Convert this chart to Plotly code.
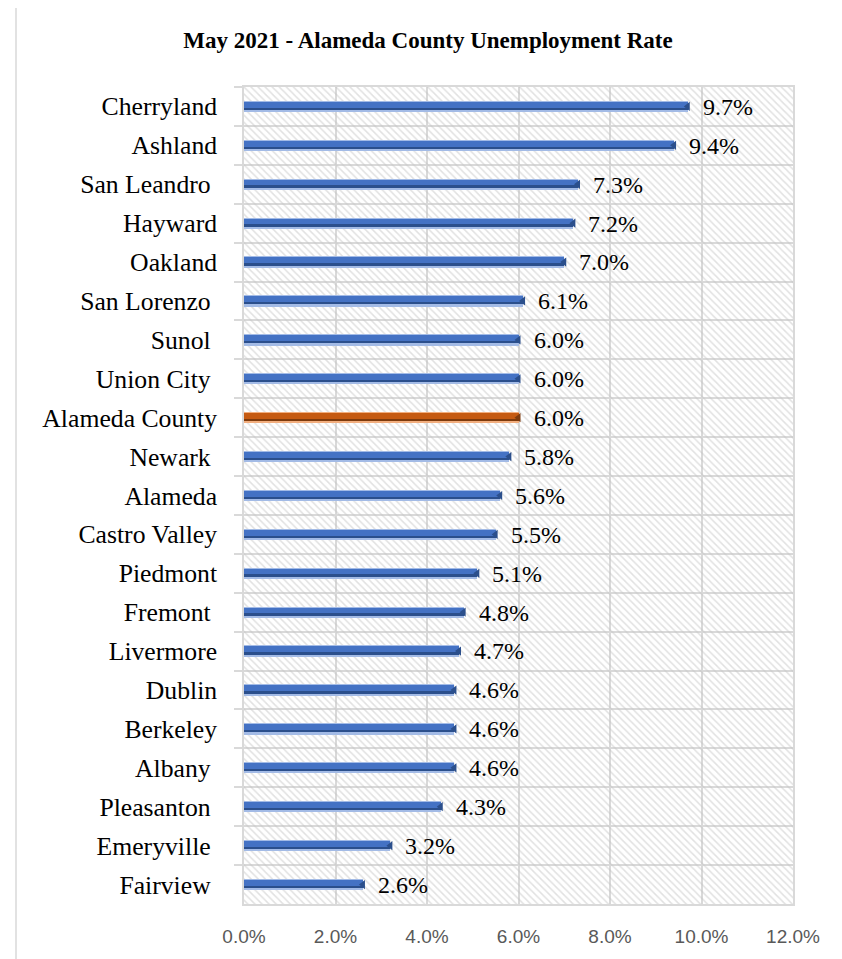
import plotly.graph_objects as go

# ---- data ----
places = ["Cherryland", "Ashland", "San Leandro\u00a0", "Hayward", "Oakland",
          "San Lorenzo\u00a0", "Sunol\u00a0", "Union City\u00a0", "Alameda County",
          "Newark\u00a0", "Alameda", "Castro Valley", "Piedmont", "Fremont\u00a0",
          "Livermore", "Dublin", "Berkeley", "Albany\u00a0", "Pleasanton\u00a0",
          "Emeryville\u00a0", "Fairview\u00a0"]
rates = [0.097, 0.094, 0.073, 0.072, 0.070, 0.061, 0.060, 0.060, 0.060, 0.058,
         0.056, 0.055, 0.051, 0.048, 0.047, 0.046, 0.046, 0.046, 0.043, 0.032, 0.026]
x_ticks = [0.0, 0.02, 0.04, 0.06, 0.08, 0.10, 0.12]
title_text = "May 2021 - Alameda County Unemployment Rate"

GRID = "#D9D9D9"
# (light, main, dark) shades for the bevelled bars
BLUE_SHADES = ("#A3BBE6", "#4472C4", "#2B4F8C")
ORANGE_SHADES = ("#F2AE7E", "#C55A11", "#7E3A0C")

is_county = [p.startswith("Alameda County") for p in places]
light = [ORANGE_SHADES[0] if c else BLUE_SHADES[0] for c in is_county]
main = [ORANGE_SHADES[1] if c else BLUE_SHADES[1] for c in is_county]
dark = [ORANGE_SHADES[2] if c else BLUE_SHADES[2] for c in is_county]

# page body has an 8px margin, so figure pixel = screen pixel - 8
OFF = 8
W, H = 842 - 2 * OFF, 959 - OFF
PL, PR = 244 - OFF, 793 - OFF        # plot area left/right (figure px)
PT, PB = 87 - OFF, 907 - OFF         # plot area top/bottom (figure px)

fig = go.Figure()

# hatched plot-area background (on hidden main axes, drawn below the data)
fig.add_trace(go.Bar(
    x=[1], y=[0], width=[1], orientation="h", base=0,
    xaxis="x", yaxis="y",
    marker=dict(color="rgba(0,0,0,0)", line=dict(width=0),
                pattern=dict(shape="\\", size=5, solidity=0.3,
                             fgcolor="#C4C4C4", bgcolor="rgba(0,0,0,0)",
                             fillmode="overlay")),
    hoverinfo="skip", showlegend=False,
))

# data bars: light outer band carrying the labels
fig.add_trace(go.Bar(
    x=rates, y=places, orientation="h",
    xaxis="x2", yaxis="y2",
    width=0.29, offset=-0.145,
    marker=dict(color=light, line=dict(width=0)),
    texttemplate="\u2002%{x:.1%}",
    textposition="outside",
    constraintext="none",
    cliponaxis=False,
    textfont=dict(family="Liberation Serif", size=24, color="#000000"),
    showlegend=False,
))
# main body of the bar
fig.add_trace(go.Bar(
    x=rates, y=places, orientation="h",
    xaxis="x2", yaxis="y2",
    width=0.17, offset=-0.12,
    marker=dict(color=main, line=dict(width=0)),
    hoverinfo="skip", showlegend=False,
))
# dark lower band
fig.add_trace(go.Bar(
    x=rates, y=places, orientation="h",
    xaxis="x2", yaxis="y2",
    width=0.06, offset=0.03,
    marker=dict(color=dark, line=dict(width=0)),
    hoverinfo="skip", showlegend=False,
))
# dark end caps
fig.add_trace(go.Scatter(
    x=rates, y=places, mode="markers",
    xaxis="x2", yaxis="y2",
    marker=dict(symbol="triangle-left", size=8, color=dark, line=dict(width=0)),
    cliponaxis=False, hoverinfo="skip", showlegend=False,
))

fig.update_layout(
    width=W, height=H,
    margin=dict(l=PL, r=W - PR, t=PT, b=H - PB),
    paper_bgcolor="white", plot_bgcolor="white",
    barmode="overlay", bargap=0,
    title=dict(text="<b>" + title_text + "</b>", x=(428 - OFF) / W, xanchor="center",
               y=1 - (40 - OFF) / H, yanchor="middle", yref="container",
               font=dict(family="Liberation Serif", size=23, color="#000000")),
    xaxis=dict(range=[0, 1], visible=False, fixedrange=True),
    yaxis=dict(range=[-0.5, 0.5], visible=False, fixedrange=True),
    xaxis2=dict(overlaying="x", anchor="y2", side="bottom",
                range=[0, 0.12], tickvals=x_ticks, tickformat=".1%",
                showgrid=True, gridcolor=GRID, gridwidth=1.5,
                showline=True, linecolor=GRID, linewidth=1.5, mirror=True,
                zeroline=False, ticks="", ticklabelstandoff=14,
                tickfont=dict(family="Liberation Sans", size=19, color="#595959")),
    yaxis2=dict(overlaying="y", anchor="x2", type="category",
                categoryorder="array", categoryarray=places,
                range=[len(places) - 0.5, -0.5], tickson="boundaries",
                showgrid=True, gridcolor=GRID, gridwidth=1.5,
                showline=True, linecolor=GRID, linewidth=1.5, mirror=True,
                ticks="outside", ticklen=8, tickcolor=GRID, tickwidth=1.5,
                ticklabelstandoff=20,
                tickfont=dict(family="Liberation Serif", size=25.7, color="#000000")),
    shapes=[dict(type="rect", xref="paper", yref="paper",
                 x0=(16 - 244) / 549, x1=(838 - 244) / 549,
                 y0=(907 - 975) / 820, y1=(907 - 7) / 820,
                 line=dict(color=GRID, width=1.5), fillcolor="rgba(0,0,0,0)",
                 layer="below")],
)

fig.write_html("out.html")
